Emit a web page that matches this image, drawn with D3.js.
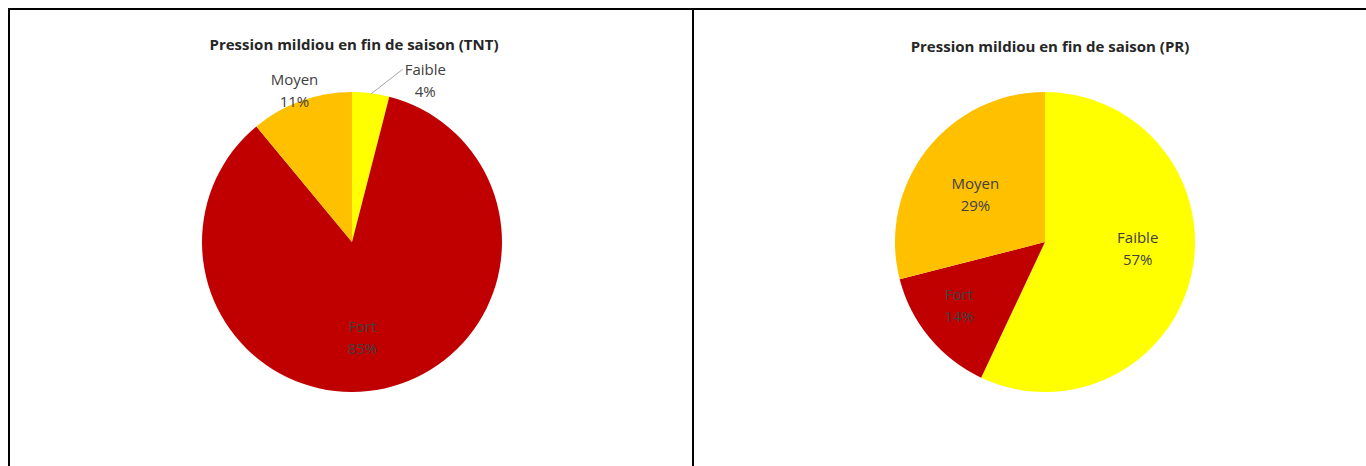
<!DOCTYPE html>
<html>
<head>
<meta charset="utf-8">
<script src="https://cdn.jsdelivr.net/npm/d3@7"></script>
<style>
  html, body { margin: 0; padding: 0; background: #fff; }
  svg { display: block; }
  text { font-family: "Open Sans", "Liberation Sans", sans-serif; }
</style>
</head>
<body>
<svg id="chart" width="1366" height="466"></svg>
<script>
// Pie data: share of plots per late-season downy mildew pressure class
const categories = ["Faible", "Fort", "Moyen"];
const tntValues = [4, 85, 11];
const prValues = [57, 14, 29];
const titles = ["Pression mildiou en fin de saison (TNT)", "Pression mildiou en fin de saison (PR)"];
const colors = { "Faible": "#FFFF00", "Fort": "#C00000", "Moyen": "#FFC000" };

const svg = d3.select("#chart");

// Frame: top edge, left edge, and the divider between the two panels
svg.append("g").attr("stroke", "#000").attr("stroke-width", 2)
  .selectAll("line")
  .data([[8, 9, 1366, 9], [9, 8, 9, 466], [693, 8, 693, 466]])
  .join("line")
  .attr("x1", d => d[0]).attr("y1", d => d[1])
  .attr("x2", d => d[2]).attr("y2", d => d[3]);

const pie = d3.pie().sort(null).value(d => d.value);
const radius = 150;
const arc = d3.arc().innerRadius(0).outerRadius(radius);
const labelSize = 15;
const lineGap = 22;

function drawPie(cx, cy, values, title, titleX, titleY, labelPos) {
  const data = categories.map((c, i) => ({ name: c, value: values[i] }));
  const total = d3.sum(values);
  const g = svg.append("g").attr("transform", `translate(${cx},${cy})`);
  const arcs = pie(data);

  g.selectAll("path.slice")
    .data(arcs)
    .join("path")
    .attr("class", "slice")
    .attr("d", arc)
    .attr("fill", d => colors[d.data.name]);

  svg.append("text")
    .attr("x", titleX).attr("y", titleY)
    .attr("text-anchor", "middle")
    .attr("font-size", 15)
    .attr("font-weight", "bold")
    .attr("fill", "#262626")
    .text(title);

  arcs.forEach(a => {
    const name = a.data.name;
    const lp = labelPos[name];
    const mid = (a.startAngle + a.endAngle) / 2;
    // label block centre: along the slice bisector, then nudged
    const x = Math.sin(mid) * lp.r + lp.dx;
    const y = -Math.cos(mid) * lp.r + lp.dy;
    const t = g.append("text")
      .attr("text-anchor", "middle")
      .attr("font-size", labelSize)
      .attr("fill", "#404040");
    const nameSpan = t.append("tspan").attr("x", x).attr("y", y - lineGap / 2 + 5).text(name);
    t.append("tspan").attr("x", x).attr("y", y + lineGap / 2 + 5)
      .text(Math.round(a.data.value / total * 100) + "%");
    if (lp.leader) {
      const w = nameSpan.node().getComputedTextLength();
      g.insert("path", "text")
        .attr("d", d3.line()([
          [Math.sin(mid) * (radius - 1), -Math.cos(mid) * (radius - 1)],
          [x - w / 2 - 2, y - lineGap / 2 - 1]
        ]))
        .attr("stroke", "#a6a6a6").attr("stroke-width", 1).attr("fill", "none");
    }
  });
}

drawPie(352, 242, tntValues, titles[0], 354, 50, {
  "Faible": { r: 162, dx: 53, dy: 0, leader: true },
  "Fort": { r: 98, dx: -11, dy: 0 },
  "Moyen": { r: 161, dx: -3, dy: 0 }
});

drawPie(1045, 242, prValues, titles[1], 1050, 52, {
  "Faible": { r: 95, dx: 0, dy: -14 },
  "Fort": { r: 104, dx: -6, dy: -2 },
  "Moyen": { r: 83, dx: -4, dy: 4 }
});
</script>
</body>
</html>
